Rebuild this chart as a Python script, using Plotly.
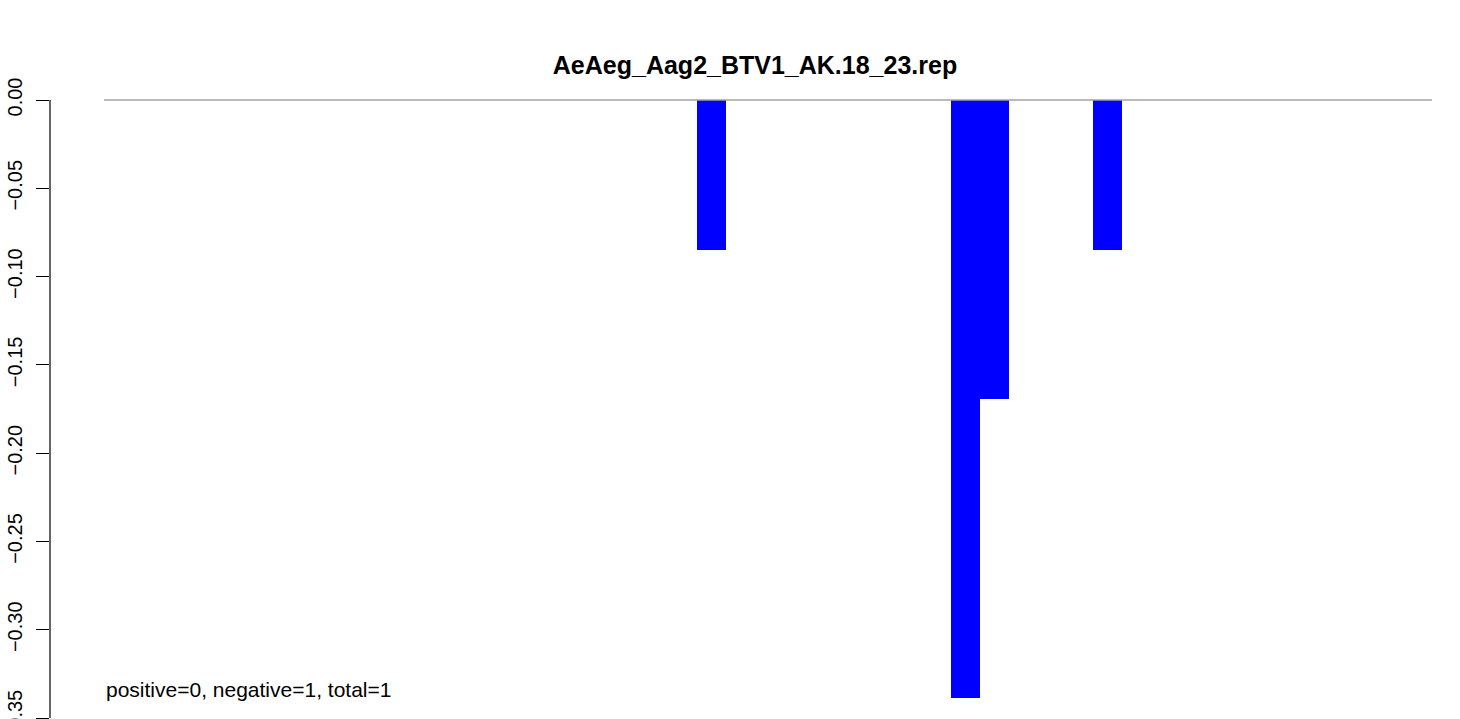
import plotly.graph_objects as go

title_text = "AeAeg_Aag2_BTV1_AK.18_23.rep"
bar_centers = [21.04, 29.84, 30.84, 34.76]
bar_values = [-0.0847, -0.3388, -0.1694, -0.0847]
bar_width = 1.0
baseline_x = [0, 46]
baseline_y = [0, 0]
tick_vals = [0.0, -0.05, -0.10, -0.15, -0.20, -0.25, -0.30, -0.35]
tick_text = ["0.00", "\u22120.05", "\u22120.10", "\u22120.15", "\u22120.20", "\u22120.25", "\u22120.30", "\u22120.35"]
note_text = "positive=0, negative=1, total=1"

FONT = "Liberation Sans, Arial, Helvetica, sans-serif"

fig = go.Figure()
fig.add_trace(go.Scatter(x=baseline_x, y=baseline_y, mode="lines",
                         line=dict(color="#a3a3a3", width=1.6), hoverinfo="skip",
                         showlegend=False))
fig.add_trace(go.Bar(x=bar_centers, y=bar_values, width=bar_width,
                     marker=dict(color="#0000ff", line=dict(width=0)),
                     showlegend=False))

# axis line spanning only the tick range, as in R
fig.add_shape(type="line", xref="paper", yref="y", x0=0, x1=0,
              y0=tick_vals[0], y1=tick_vals[-1], line=dict(color="black", width=1.2))

fig.add_annotation(text=note_text, xref="x", yref="y", x=baseline_x[0], y=-0.334,
                   xanchor="left", yanchor="middle", showarrow=False,
                   font=dict(family=FONT, size=21, color="black"))

fig.update_layout(
    width=1460, height=719,
    margin=dict(l=50, r=0, t=76, b=0, autoexpand=False),
    paper_bgcolor="white", plot_bgcolor="white",
    title=dict(text="<b>" + title_text + "</b>", x=755 / 1460, xanchor="center",
               y=1 - 65 / 719, yanchor="middle", yref="container",
               font=dict(family=FONT, size=25, color="black")),
    bargap=0,
    font=dict(family=FONT, color="black"),
)
fig.update_xaxes(range=[-1.870, 46.97], showgrid=False, zeroline=False,
                 showticklabels=False, ticks="", showline=False, automargin=False)
fig.update_yaxes(range=[-0.3505, 0.01359], showgrid=False, zeroline=False,
                 showline=False, ticks="outside", ticklen=13, tickwidth=1.2,
                 tickcolor="black", tickvals=tick_vals, ticktext=tick_text,
                 tickangle=-90, tickfont=dict(family=FONT, size=20, color="black"),
                 automargin=False, ticklabeloverflow="allow", ticklabelstandoff=6)

fig.write_html("out.html", config={"displayModeBar": False},
               post_script="document.body.style.margin='0px';document.body.style.overflow='hidden';")
